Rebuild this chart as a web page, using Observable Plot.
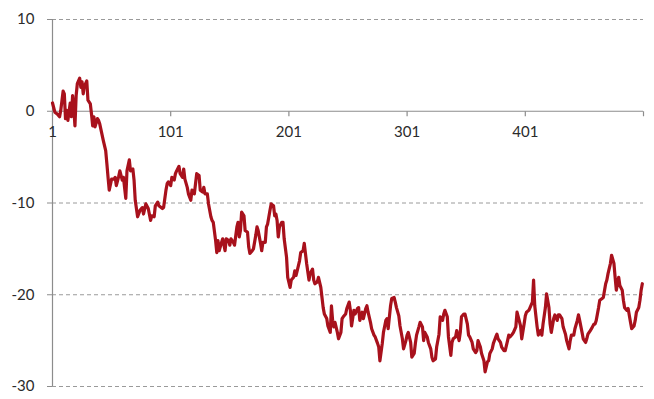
<!DOCTYPE html>
<html>
<head>
<meta charset="utf-8">
<script src="https://cdn.jsdelivr.net/npm/d3@7"></script>
<script src="https://cdn.jsdelivr.net/npm/@observablehq/plot@0.6"></script>
<style>
  html, body { margin: 0; padding: 0; background: #fff; }
  svg { display: block; }
</style>
</head>
<body>
<div id="chart"></div>
<script>
// [step, value] readings of the series, in six stretches
const part1 = [[1,0.9],[3,-0.1],[5,-0.3],[7,-0.6],[8,0.1],[10,2.2],[11,1.9],[12,-0.8],[13,0.1],[14,-1.0],[16,0.9],[17,-0.6],[18,1.7],[19,0.3],[20,-1.6],[21,1.7],[22,3.0],[24,3.6],[25,2.6],[26,3.2],[27,1.9],[28,2.8],[29,3.0],[30,3.3],[31,1.2],[33,0.8],[34,-0.3],[35,-1.6],[36,-0.6],[37,-1.7],[39,-0.8],[40,-1.0],[41,-1.4],[43,-2.6],[44,-3.2],[46,-4.3],[47,-5.7],[48,-7.2],[49,-8.6],[51,-7.4],[53,-7.4],[54,-7.2],[55,-8.1],[57,-7.1],[58,-6.5],[60,-7.5],[61,-7.2],[63,-9.5],[64,-6.5],[66,-5.3],[67,-6.5],[69,-6.3],[70,-7.5],[71,-9.7],[73,-11.5],[75,-10.8],[77,-10.5],[78,-11.2]];
const part2 = [[80,-10.1],[82,-10.6],[84,-11.9],[85,-11.4],[87,-11.5],[88,-10.3],[90,-9.9],[91,-10.3],[94,-10.6],[95,-10.5],[97,-8.6],[98,-7.9],[99,-7.7],[101,-8.1],[102,-7.2],[104,-7.5],[105,-6.8],[106,-6.5],[108,-6.0],[109,-6.8],[111,-7.2],[112,-6.3],[113,-7.4],[115,-8.3],[116,-9.0],[118,-9.7],[119,-8.6],[121,-9.0],[122,-7.9],[123,-6.8],[125,-7.0],[126,-8.6],[128,-8.8],[129,-8.3],[130,-9.0],[132,-9.0],[133,-10.1],[135,-11.5],[136,-11.9],[137,-12.1],[139,-14.1],[140,-15.4],[141,-14.1],[142,-15.2],[144,-14.3],[145,-13.9],[147,-15.2],[148,-13.9],[150,-14.1],[151,-14.6],[152,-13.9],[154,-14.3],[155,-14.6],[157,-12.6],[158,-12.1],[159,-13.7]];
const part3 = [[160,-13.0],[161,-11.0],[163,-11.4],[164,-13.0],[166,-13.2],[167,-14.8],[168,-15.5],[170,-15.2],[171,-15.0],[173,-13.5],[174,-12.6],[175,-13.0],[177,-14.4],[178,-15.2],[179,-14.3],[181,-14.3],[182,-12.6],[183,-12.3],[185,-10.8],[186,-10.1],[188,-10.3],[189,-11.4],[190,-11.2],[191,-11.9],[192,-13.7],[193,-12.6],[195,-12.1],[196,-12.1],[197,-13.9],[199,-15.9],[200,-18.1],[202,-19.2],[203,-18.4],[205,-18.1],[206,-17.4],[207,-17.9],[208,-17.4],[210,-16.3],[211,-15.4],[213,-15.2],[214,-14.4],[215,-15.5],[216,-16.6],[218,-18.4],[219,-17.7],[221,-17.2],[222,-18.4],[223,-18.8],[225,-18.6],[226,-18.1],[228,-19.2],[229,-20.3],[230,-21.4],[231,-22.1],[233,-22.6],[234,-23.4],[236,-24.1],[237,-21.2],[238,-22.8],[239,-23.5],[240,-23.0],[242,-24.1],[243,-24.8]];
const part4 = [[245,-24.1],[246,-22.6],[247,-22.4],[249,-22.1],[250,-21.5],[252,-20.8],[253,-21.7],[254,-23.4],[256,-21.7],[257,-22.1],[259,-21.5],[260,-21.4],[261,-22.8],[263,-21.9],[264,-22.6],[266,-21.5],[267,-21.2],[268,-21.9],[270,-23.0],[271,-23.7],[273,-24.4],[274,-24.6],[276,-25.3],[277,-25.7],[278,-27.2],[280,-25.3],[281,-24.1],[283,-22.8],[284,-22.6],[285,-23.7],[287,-21.2],[288,-20.4],[290,-20.3],[291,-20.8],[292,-21.4],[294,-22.3],[295,-23.4],[297,-24.8],[298,-25.9],[300,-25.0],[301,-24.4],[302,-24.1],[304,-25.2],[305,-26.8],[307,-26.4],[308,-25.3],[309,-24.4],[311,-23.5],[312,-23.0],[314,-23.5],[315,-25.0],[316,-24.1],[318,-24.6],[319,-25.2],[321,-25.9],[322,-26.8],[323,-27.2]];
const part5 = [[325,-27.0],[326,-25.7],[328,-24.3],[329,-22.4],[331,-22.8],[332,-22.1],[333,-21.7],[335,-22.4],[336,-24.6],[338,-26.6],[339,-25.2],[340,-24.8],[342,-24.6],[343,-23.9],[345,-25.0],[346,-24.1],[347,-22.4],[349,-22.1],[350,-22.1],[352,-23.2],[353,-24.4],[354,-24.6],[356,-25.2],[357,-25.9],[359,-26.3],[360,-26.1],[361,-25.0],[363,-25.7],[364,-26.4],[366,-27.2],[367,-28.4],[369,-27.3],[370,-27.2],[371,-26.4],[373,-25.9],[374,-25.3],[376,-24.6],[377,-24.3],[378,-24.8],[380,-25.2],[381,-25.7],[383,-26.1],[384,-26.1],[386,-25.0],[387,-24.4],[388,-24.6],[390,-24.3],[391,-24.1],[393,-23.5],[394,-21.9],[395,-22.4],[397,-23.4],[398,-24.8],[400,-23.2],[401,-22.3],[402,-21.9],[404,-21.7],[405,-21.4],[407,-20.8],[408,-18.4],[409,-21.2],[411,-23.5],[412,-24.4]];
const part6 = [[414,-23.9],[415,-24.4],[416,-23.2],[418,-21.4],[419,-19.9],[421,-21.4],[422,-23.2],[423,-24.1],[425,-22.6],[426,-22.2],[428,-22.8],[429,-22.2],[430,-22.2],[432,-22.6],[433,-23.5],[435,-24.3],[436,-25.0],[438,-25.9],[439,-25.0],[440,-24.4],[442,-24.4],[443,-23.7],[445,-22.8],[446,-22.2],[447,-22.8],[449,-24.1],[450,-24.8],[452,-25.2],[453,-24.8],[454,-24.3],[456,-23.9],[457,-23.7],[459,-23.2],[460,-23.2],[461,-22.8],[463,-21.4],[464,-20.6],[466,-20.4],[467,-20.3],[469,-18.8],[470,-18.4],[471,-17.7],[473,-16.6],[474,-15.7],[476,-16.6],[477,-18.1],[478,-19.5],[480,-18.1],[481,-19.0],[483,-19.5],[484,-20.6],[485,-21.4],[487,-21.7],[488,-21.5],[490,-23.0],[491,-23.7],[493,-23.4],[494,-22.8],[495,-21.9],[497,-21.4],[498,-20.6],[499,-19.5],[500,-18.8]];

const yTicks = [10, 0, -10, -20, -30];
const gridValues = [10, -10, -20, -30];
const xLabelTicks = [1, 101, 201, 301, 401];
const xTickMarks = [1, 101, 201, 301, 401, 501];
const xDomain = [1, 501];
const yDomain = [-30, 10];

const series = [...part1, ...part2, ...part3, ...part4, ...part5, ...part6]
  .map(([step, value]) => ({step, value}));

const tickSymbol = {
  draw(context, size) {
    context.moveTo(0, 0);
    context.lineTo(0, 5);
  }
};

const chart = Plot.plot({
  width: 654,
  height: 399,
  marginLeft: 52,
  marginRight: 11,
  marginTop: 19,
  marginBottom: 13,
  style: {fontFamily: "Lato, 'Open Sans', sans-serif", fontSize: "15px", color: "#2b2b2b", background: "#fff"},
  x: {domain: xDomain, axis: null},
  y: {domain: yDomain, label: null},
  marks: [
    Plot.ruleY(gridValues, {stroke: "#9a9a9a", strokeWidth: 1, strokeDasharray: "4,3"}),
    Plot.ruleY([0], {stroke: "#8c8c8c", strokeWidth: 1.2}),
    Plot.ruleX([xDomain[0]], {stroke: "#8c8c8c", strokeWidth: 1.2}),
    Plot.dot(xTickMarks, {x: d => d, y: () => 0, symbol: tickSymbol, fill: "none", stroke: "#8c8c8c", strokeWidth: 1.2, r: 5}),
    Plot.axisY({ticks: yTicks, label: null, tickSize: 5, tickPadding: 13, tickFormat: d => String(d), fontSize: 15, stroke: "#8c8c8c", fill: "#2b2b2b"}),
    Plot.text(xLabelTicks, {x: d => d, y: () => 0, text: d => String(d), dy: 21, fontSize: 15, fill: "#2b2b2b"}),
    Plot.line(series, {x: "step", y: "value", stroke: "#A8111C", strokeWidth: 3.2, strokeLinejoin: "round"})
  ]
});

document.getElementById("chart").appendChild(chart);
</script>
</body>
</html>
